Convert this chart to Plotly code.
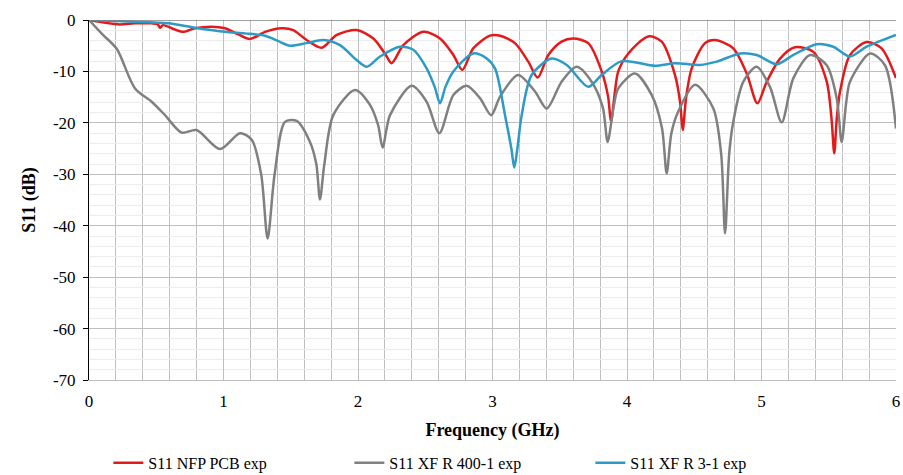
import plotly.graph_objects as go

# ---- data ----
freq_nfp = [0, 0.218, 0.34, 0.466, 0.51, 0.528, 0.55, 0.615, 0.70, 0.788, 0.912, 1.011, 1.11, 1.197,
            1.309, 1.432, 1.519, 1.618, 1.73, 1.842, 1.99, 2.114, 2.2, 2.25, 2.337, 2.486, 2.61, 2.709,
            2.776, 2.857, 2.981, 3.056, 3.167, 3.266, 3.336, 3.415, 3.514, 3.6, 3.712, 3.812, 3.86,
            3.881, 3.91, 3.935, 4.01, 4.158, 4.258, 4.357, 4.395, 4.414, 4.44, 4.481, 4.58, 4.654,
            4.79, 4.89, 4.969, 5.039, 5.138, 5.249, 5.385, 5.485, 5.52, 5.541, 5.56, 5.584, 5.658,
            5.782, 5.893, 6.0]
s11_nfp = [0, -0.85, -0.65, -0.65, -0.8, -1.5, -1.0, -1.6, -2.3, -1.6, -1.3, -1.6, -2.8, -3.7,
           -2.3, -1.6, -1.95, -3.9, -5.4, -2.9, -1.95, -3.6, -6.5, -8.4, -4.9, -2.3, -3.6, -6.8,
           -9.7, -5.5, -3.05, -3.05, -4.5, -8.1, -11.2, -6.8, -4.2, -3.6, -4.5, -10.0, -15,
           -19.8, -14, -10.0, -6.5, -3.2, -4.2, -10.7, -16, -21.4, -15, -9.4, -4.5, -3.9,
           -5.5, -10.4, -16.2, -12.0, -7.5, -5.3, -6.2, -12.0, -19, -25.9, -19, -13.9, -6.8,
           -4.3, -5.5, -11.3]

freq_400 = [0, 0.1, 0.206, 0.342, 0.466, 0.565, 0.689, 0.80, 0.974, 1.123, 1.21, 1.28, 1.328, 1.38,
            1.457, 1.544, 1.643, 1.69, 1.717, 1.75, 1.816, 1.978, 2.089, 2.15, 2.183, 2.238, 2.399,
            2.51, 2.605, 2.709, 2.808, 2.907, 2.99, 3.056, 3.19, 3.316, 3.403, 3.514, 3.626, 3.737,
            3.82, 3.856, 3.90, 3.935, 4.059, 4.184, 4.26, 4.295, 4.33, 4.381, 4.506, 4.642, 4.70,
            4.729, 4.76, 4.79, 4.865, 4.964, 5.063, 5.15, 5.237, 5.361, 5.485, 5.559, 5.596, 5.63,
            5.658, 5.807, 5.918, 6.0]
s11_400 = [0, -2.8, -5.6, -13.3, -15.9, -18.5, -21.9, -21.4, -25.1, -22.0, -23.3, -30, -42.5, -30,
           -19.8, -19.6, -23.7, -28, -34.9, -28, -18.5, -13.6, -16.5, -20.5, -24.8, -18.5, -12.8,
           -15.9, -22.0, -14.6, -12.8, -15.2, -18.5, -14.9, -10.7, -13.9, -17.2, -12.0, -9.1, -12.0,
           -17, -23.7, -17, -13.3, -10.4, -14.6, -21, -29.8, -22, -17.8, -12.6, -17.2, -26,
           -41.5, -26, -19.8, -12.0, -9.1, -13.0, -19.9, -11.3, -6.8, -8.8, -15.2, -23.7, -16,
           -12.0, -6.5, -8.8, -21.1]

freq_31 = [0, 0.3, 0.59, 0.788, 1.011, 1.16, 1.309, 1.40, 1.494, 1.618, 1.742, 1.866, 1.99, 2.065,
           2.164, 2.312, 2.411, 2.51, 2.57, 2.61, 2.65, 2.709, 2.857, 2.957, 3.02, 3.093, 3.14,
           3.162, 3.185, 3.217, 3.291, 3.44, 3.552, 3.712, 3.812, 3.961, 4.208, 4.357, 4.543,
           4.667, 4.84, 4.964, 5.113, 5.237, 5.41, 5.534, 5.658, 5.782, 6.0]
s11_31 = [0, -0.3, -0.65, -1.5, -2.3, -2.6, -3.05, -4.0, -5.0, -4.5, -3.9, -4.9, -7.8, -9.1,
          -7.1, -5.2, -5.8, -9.4, -13, -16.2, -13, -10.0, -6.5, -7.5, -9.5, -18.5, -25,
          -28.7, -25, -18.5, -10.7, -7.5, -8.75, -13.0, -10.7, -8.0, -8.9, -8.4, -8.75,
          -8.1, -6.5, -6.8, -8.6, -6.8, -4.7, -5.2, -7.1, -5.2, -2.9]

y_tickvals = [0, -10, -20, -30, -40, -50, -60, -70]
y_ticktext = ["0", "-10", "-20", "-30", "-40", "-50", "-60", "-70"]

names = ["S11 NFP PCB exp", "S11 XF R 400-1 exp", "S11 XF R 3-1 exp"]
colors = ["#E31A1C", "#808080", "#2E9BC6"]

fig = go.Figure()
for x, y, n, c in [(freq_nfp, s11_nfp, names[0], colors[0]),
                   (freq_400, s11_400, names[1], colors[1]),
                   (freq_31, s11_31, names[2], colors[2])]:
    fig.add_trace(go.Scatter(x=x, y=y, name=n, mode="lines",
                             line=dict(color=c, width=2.5, shape="spline", smoothing=0.8)))

fig.update_layout(
    width=903, height=475,
    margin=dict(l=89, r=7, t=20, b=95, autoexpand=False),
    plot_bgcolor="white", paper_bgcolor="white",
    font=dict(family="Liberation Serif", size=17, color="black"),
    showlegend=True,
    legend=dict(orientation="h", x=0.024, y=-0.23, xanchor="left", yanchor="middle",
                entrywidth=196, entrywidthmode="pixels", font=dict(size=16),
                bgcolor="rgba(0,0,0,0)"),
)
fig.update_xaxes(
    range=[0, 6], tick0=0, dtick=1, showgrid=True, gridcolor="#BFBFBF", gridwidth=1,
    minor=dict(dtick=0.2, tick0=0, showgrid=True, gridcolor="#BFBFBF", gridwidth=1, ticks=""),
    ticks="", showline=True, linecolor="#BFBFBF", zeroline=False,
    tickfont=dict(size=17), ticklabelstandoff=6,
    title=dict(text="<b>Frequency (GHz)</b>", font=dict(size=18), standoff=12),
)
fig.update_yaxes(
    range=[-70, 0], tickmode="array", tickvals=y_tickvals, ticktext=y_ticktext,
    showgrid=True, gridcolor="#BFBFBF", gridwidth=1,
    minor=dict(dtick=2, tick0=0, showgrid=True, gridcolor="#ECECEC", gridwidth=1, ticks=""),
    ticks="outside", ticklen=5, tickcolor="black",
    showline=True, linecolor="black", linewidth=1, zeroline=False,
    tickfont=dict(size=17), ticklabelstandoff=4,
    title=dict(text="<b>S11 (dB)</b>", font=dict(size=18), standoff=12),
)
fig.add_shape(type="line", xref="paper", yref="y", x0=0, x1=1, y0=0, y1=0,
              line=dict(color="#7F7F7F", width=1.5), layer="above")

fig.write_html("out.html")
